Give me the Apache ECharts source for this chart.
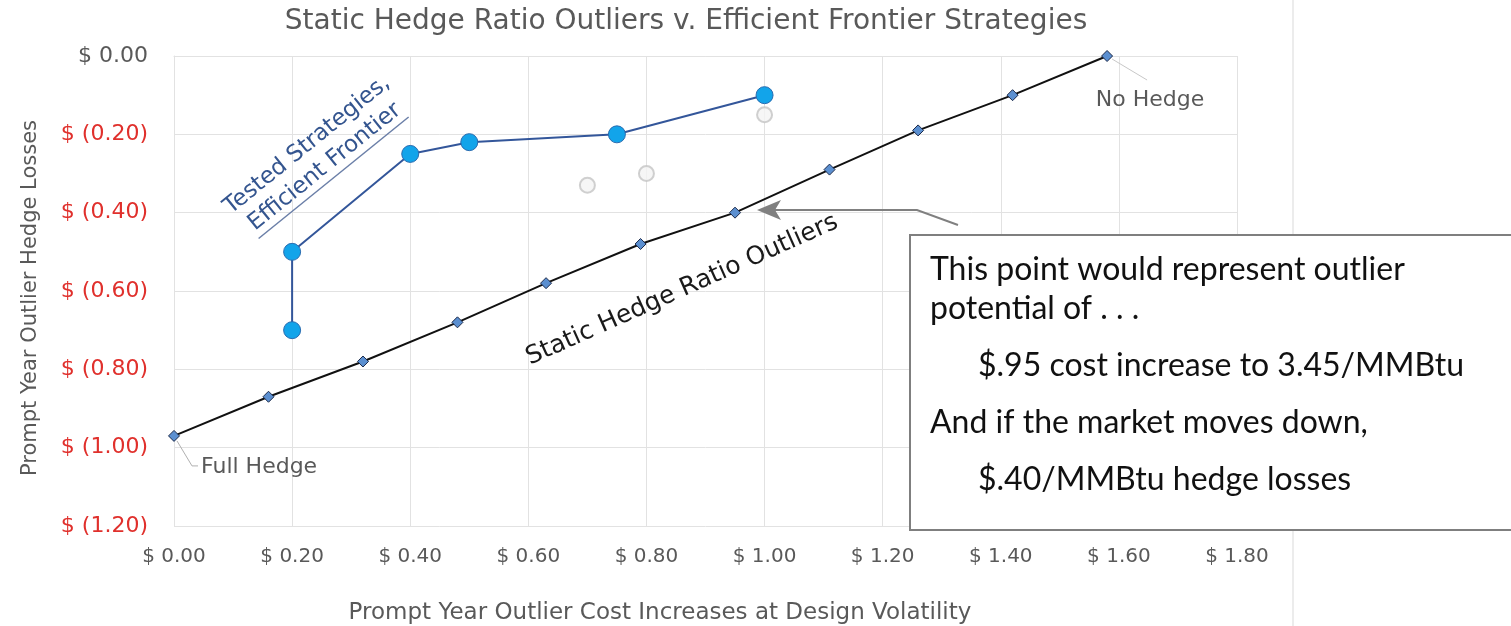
<!DOCTYPE html>
<html>
<head>
<meta charset="utf-8">
<script src="https://cdn.jsdelivr.net/npm/echarts@6/dist/echarts.min.js"></script>
<style>
  html, body { margin: 0; padding: 0; background: #ffffff; }
  #chart { width: 1511px; height: 626px; }
</style>
</head>
<body>
<div id="chart"></div>
<script>
// Static hedge ratios, from full hedge (left) to no hedge (right)
const staticCost = [0.00, 0.16, 0.32, 0.48, 0.63, 0.79, 0.95, 1.11, 1.26, 1.42, 1.58];
const staticLoss = [-0.97, -0.87, -0.78, -0.68, -0.58, -0.48, -0.40, -0.29, -0.19, -0.10, 0.00];

// Tested strategies lying on the efficient frontier
const frontierCost = [0.20, 0.20, 0.40, 0.50, 0.75, 1.00];
const frontierLoss = [-0.70, -0.50, -0.25, -0.22, -0.20, -0.10];

// Tested strategies off the frontier
const otherCost = [0.70, 0.80, 1.00];
const otherLoss = [-0.33, -0.30, -0.15];

// Axis ranges and tick step
const xRange = [0, 1.8];
const yRange = [-1.2, 0];
const tickStep = 0.2;

const titleText = 'Static Hedge Ratio Outliers v. Efficient Frontier Strategies';
const xName = 'Prompt Year Outlier Cost Increases at Design Volatility';
const yName = 'Prompt Year Outlier Hedge Losses';
const noteLines = [
  'This point would represent outlier',
  'potential of . . .',
  '$.95 cost increase to 3.45/MMBtu',
  'And if the market moves down,',
  '$.40/MMBtu hedge losses'
];

const GREY = '#595959';
const RED = '#e0302c';
const FONT = 'DejaVu Sans';
const NOTE_FONT = 'Lato';

const zip = (xs, ys) => xs.map((x, i) => [x, ys[i]]);

function measure(text, font) {
  const ctx = document.createElement('canvas').getContext('2d');
  ctx.font = font;
  return ctx.measureText(text).width;
}

const chart = echarts.init(document.getElementById('chart'), null, { renderer: 'canvas' });

const option = {
  backgroundColor: '#ffffff',
  animation: false,
  grid: { left: 174, right: 274, top: 56, bottom: 100, containLabel: false },
  xAxis: {
    type: 'value',
    min: xRange[0], max: xRange[1], interval: tickStep,
    axisLine: { show: true, lineStyle: { color: '#e2e2e2', width: 1 } },
    axisTick: { show: false },
    splitLine: { show: true, lineStyle: { color: '#e2e2e2', width: 1 } },
    axisLabel: {
      margin: 21, color: GREY, fontFamily: FONT, fontSize: 20,
      formatter: v => '$ ' + v.toFixed(2)
    }
  },
  yAxis: {
    type: 'value',
    min: yRange[0], max: yRange[1], interval: tickStep,
    axisLine: { show: true, lineStyle: { color: '#e2e2e2', width: 1 } },
    axisTick: { show: false },
    splitLine: { show: true, lineStyle: { color: '#e2e2e2', width: 1 } },
    axisLabel: {
      margin: 26, fontFamily: FONT, fontSize: 22,
      color: v => (Math.abs(v) < 1e-9 ? GREY : RED),
      formatter: v => (Math.abs(v) < 1e-9 ? '$ 0.00' : '$ (' + Math.abs(v).toFixed(2) + ')')
    }
  },
  series: [
    {
      name: 'Static Hedge Ratio Outliers',
      type: 'line',
      data: zip(staticCost, staticLoss),
      symbol: 'diamond',
      symbolSize: 11,
      lineStyle: { color: '#111111', width: 2 },
      itemStyle: { color: '#5b8fd0', borderColor: '#1c2a4a', borderWidth: 1 },
      z: 3
    },
    {
      name: 'Efficient Frontier',
      type: 'line',
      data: zip(frontierCost, frontierLoss),
      symbol: 'circle',
      symbolSize: 17,
      lineStyle: { color: '#33569a', width: 2 },
      itemStyle: { color: '#12a4ea', borderColor: '#2a6cb0', borderWidth: 1 },
      z: 4
    },
    {
      name: 'Other Strategies',
      type: 'scatter',
      data: zip(otherCost, otherLoss),
      symbol: 'circle',
      symbolSize: 15,
      itemStyle: { color: '#f4f4f4', borderColor: '#c4c4c4', borderWidth: 2 },
      z: 2
    }
  ]
};

chart.setOption(option);

// Annotations anchored to the plotted end points of the static series
const px = p => chart.convertToPixel({ gridIndex: 0 }, p);
const full = px([staticCost[0], staticLoss[0]]);
const none = px([staticCost[staticCost.length - 1], staticLoss[staticLoss.length - 1]]);

const frontierFont = '23px "' + FONT + '"';
const line2Width = measure('Efficient Frontier', frontierFont);

const noteText = (text, x, y) => ({
  type: 'text', x: x, y: y, z: 31,
  style: { text: text, fill: '#111111', font: '32px "' + NOTE_FONT + '"', textAlign: 'left', textVerticalAlign: 'middle' }
});

chart.setOption({
  graphic: [
    // faint page divider on the right
    { type: 'line', z: 0, shape: { x1: 1293, y1: 0, x2: 1293, y2: 626 }, style: { stroke: '#ececec', lineWidth: 2 } },
    // title
    { type: 'text', x: 686, y: 22, style: { text: titleText, fill: GREY, font: '28px "' + FONT + '"', textAlign: 'center', textVerticalAlign: 'middle' } },
    // axis names
    { type: 'text', x: 660, y: 613, style: { text: xName, fill: GREY, font: '23px "' + FONT + '"', textAlign: 'center', textVerticalAlign: 'middle' } },
    { type: 'text', x: 31, y: 298, rotation: Math.PI / 2, style: { text: yName, fill: GREY, font: '21px "' + FONT + '"', textAlign: 'center', textVerticalAlign: 'middle' } },
    // Full Hedge callout
    { type: 'polyline', z: 5, shape: { points: [[full[0] + 3, full[1] + 5], [full[0] + 18, full[1] + 30], [full[0] + 24, full[1] + 30]] }, style: { stroke: '#b0b0b0', lineWidth: 1, fill: null } },
    { type: 'text', z: 5, x: full[0] + 27, y: full[1] + 31, style: { text: 'Full Hedge', fill: GREY, font: '22px "' + FONT + '"', textAlign: 'left', textVerticalAlign: 'middle' } },
    // No Hedge callout
    { type: 'line', z: 5, shape: { x1: none[0] + 5, y1: none[1] + 3, x2: none[0] + 40, y2: none[1] + 24 }, style: { stroke: '#c8c8c8', lineWidth: 1 } },
    { type: 'text', z: 5, x: none[0] + 43, y: none[1] + 44, style: { text: 'No Hedge', fill: GREY, font: '22px "' + FONT + '"', textAlign: 'center', textVerticalAlign: 'middle' } },
    // series captions
    {
      type: 'group', x: 316, y: 156, rotation: 39 * Math.PI / 180, z: 6,
      children: [
        { type: 'text', x: 0, y: -14, style: { text: 'Tested Strategies,', fill: '#34558f', font: frontierFont, textAlign: 'center', textVerticalAlign: 'middle' } },
        { type: 'text', x: 0, y: 14, style: { text: 'Efficient Frontier', fill: '#34558f', font: frontierFont, textAlign: 'center', textVerticalAlign: 'middle' } },
        { type: 'line', shape: { x1: -line2Width / 2 - 2, y1: 28, x2: line2Width / 2 + 2, y2: 28 }, style: { stroke: '#6b7fa8', lineWidth: 1.5 } }
      ]
    },
    { type: 'text', x: 682, y: 290, rotation: 24 * Math.PI / 180, z: 6, style: { text: 'Static Hedge Ratio Outliers', fill: '#1a1a1a', font: '25px "' + FONT + '"', textAlign: 'center', textVerticalAlign: 'middle' } },
    // pointer from the note to the static series
    { type: 'polyline', z: 20, shape: { points: [[958, 225], [917, 210], [770, 210]] }, style: { stroke: '#808080', lineWidth: 2, fill: null } },
    { type: 'polygon', z: 20, shape: { points: [[757, 210], [781, 200], [775, 210], [781, 220]] }, style: { fill: '#808080' } },
    // note box
    { type: 'rect', z: 30, shape: { x: 910, y: 235, width: 640, height: 295 }, style: { fill: '#ffffff', stroke: '#7f7f7f', lineWidth: 2 } },
    noteText(noteLines[0], 930, 270),
    noteText(noteLines[1], 930, 309),
    noteText(noteLines[2], 978, 366),
    noteText(noteLines[3], 930, 423),
    noteText(noteLines[4], 978, 480)
  ]
});
</script>
</body>
</html>
